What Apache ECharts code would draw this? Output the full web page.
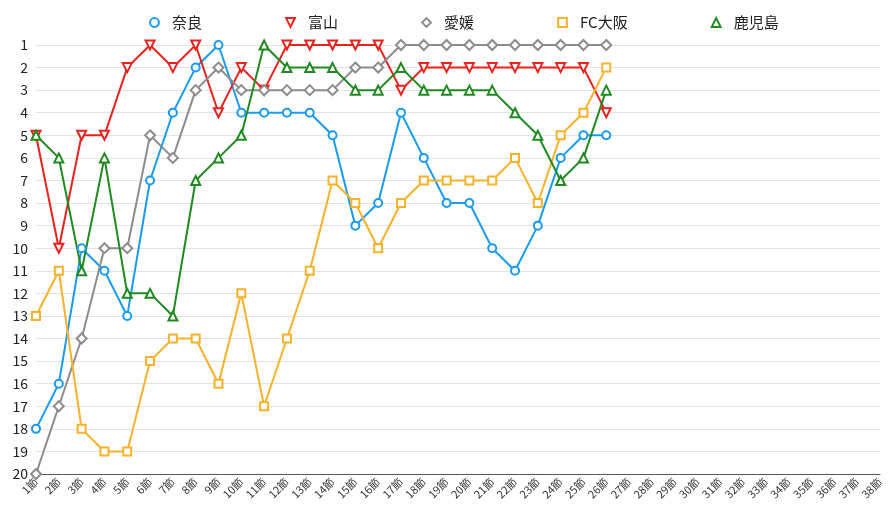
<!DOCTYPE html>
<html><head><meta charset="utf-8">
<script src="https://cdn.jsdelivr.net/npm/echarts@6/dist/echarts.min.js"></script>
<style>html,body{margin:0;padding:0;background:#fff}#c{width:894px;height:518px}</style>
</head><body><div id="c"></div>
<script>
const rounds = [];
for (let i = 1; i <= 38; i++) rounds.push(i + '節');
const yTicks = [1,2,3,4,5,6,7,8,9,10,11,12,13,14,15,16,17,18,19,20];
const nara     = [18,16,10,11,13,7,4,2,1,4,4,4,4,5,9,8,4,6,8,8,10,11,9,6,5,5];
const toyama   = [5,10,5,5,2,1,2,1,4,2,3,1,1,1,1,1,3,2,2,2,2,2,2,2,2,4];
const ehime    = [20,17,14,10,10,5,6,3,2,3,3,3,3,3,2,2,1,1,1,1,1,1,1,1,1,1];
const fcosaka  = [13,11,18,19,19,15,14,14,16,12,17,14,11,7,8,10,8,7,7,7,7,6,8,5,4,2];
const kagoshima= [5,6,11,6,12,12,13,7,6,5,1,2,2,2,3,3,2,3,3,3,3,4,5,7,6,3];

const names = ['奈良','富山','愛媛','FC大阪','鹿児島'];
const colors = ['#1A9BF0','#E8231E','#8C8C8C','#F9B12A','#1F8A1F'];
const symbols = ['emptyCircle','emptyTriangle','emptyDiamond','emptyRect','emptyTriangle'];
const sizes = [8,9,10,8,9];
const rotates = [0,180,0,0,0];
const data = [nara, toyama, ehime, fcosaka, kagoshima];

const font = '"Noto Sans CJK JP", "Noto Sans", sans-serif';
const chart = echarts.init(document.getElementById('c'));
chart.setOption({
  animation: false,
  textStyle: { fontFamily: font },
  color: colors,
  legend: {
    top: 10, left: 136, itemGap: 75, itemWidth: 25, itemHeight: 11,
    textStyle: { fontSize: 15, color: '#222', fontFamily: font },
    lineStyle: { opacity: 0 },
    data: names
  },
  grid: { left: 36, right: 14, top: 45, bottom: 44, containLabel: false },
  xAxis: {
    type: 'category', data: rounds, boundaryGap: false,
    axisLine: { lineStyle: { color: '#555', width: 1 } },
    axisTick: { show: false },
    axisLabel: { rotate: 45, fontSize: 11, color: '#333', interval: 0, margin: 6, fontFamily: font },
    splitLine: { show: false }
  },
  yAxis: {
    type: 'value', inverse: true, min: 1, max: 20, interval: 1,
    axisLine: { show: false }, axisTick: { show: false },
    axisLabel: { fontSize: 14, color: '#222', margin: 8, fontFamily: font,
      formatter: v => yTicks.includes(v) ? String(v) : '' },
    splitLine: { lineStyle: { color: '#e3e3e3', width: 1 } }
  },
  series: data.map((d, i) => ({
    name: names[i], type: 'line', data: d,
    symbol: symbols[i], symbolSize: sizes[i], symbolRotate: rotates[i],
    showAllSymbol: true,
    lineStyle: { width: 2, color: colors[i] },
    itemStyle: { color: colors[i], borderWidth: 2 },
    emphasis: { disabled: true }
  }))
});
</script></body></html>
